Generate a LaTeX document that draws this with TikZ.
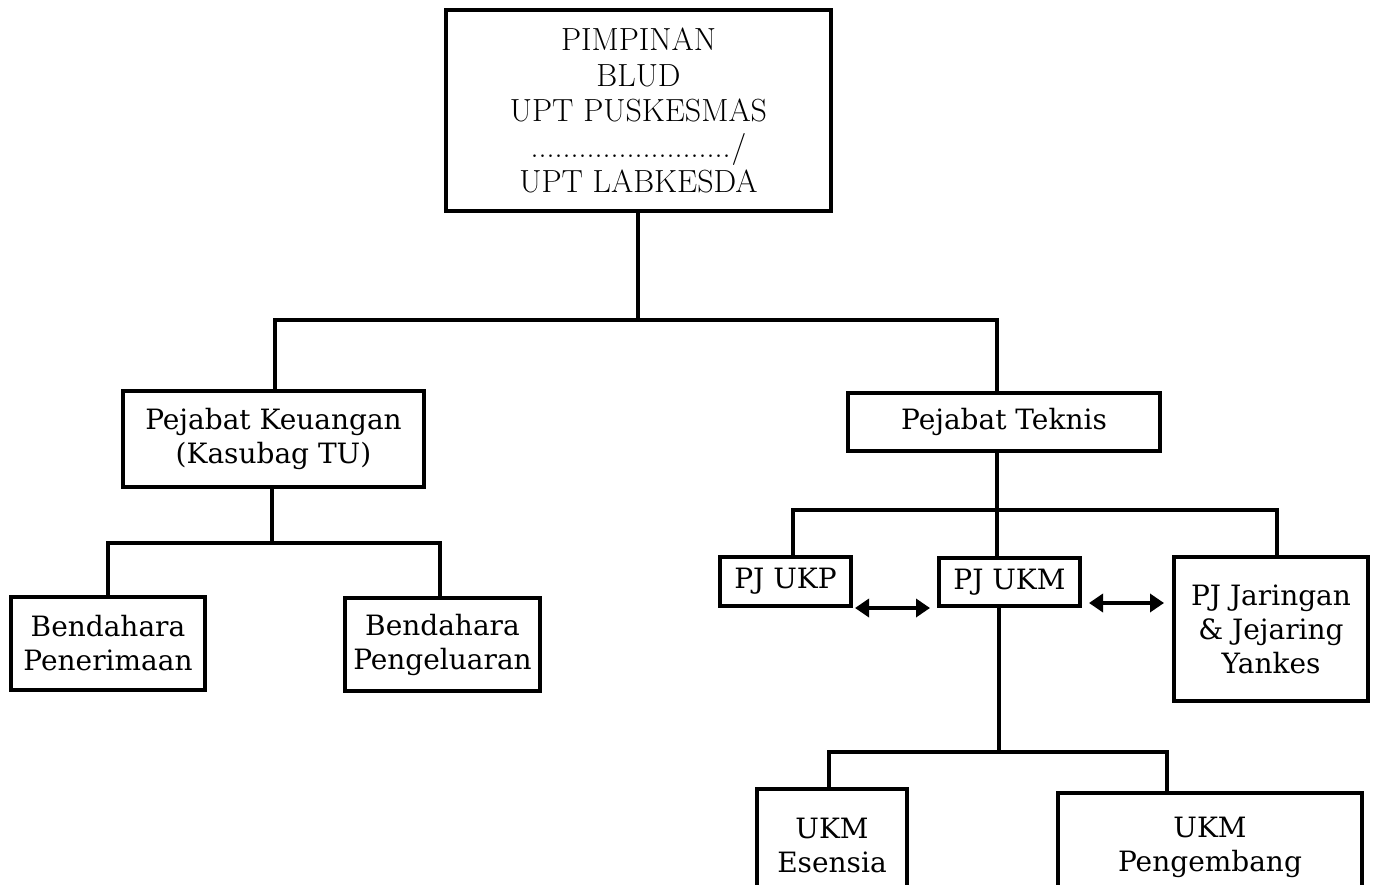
\documentclass[tikz,border=0pt]{standalone}
\usepackage{fontspec}
\setmainfont{DejaVu Serif}
\newfontfamily\lmfont{Latin Modern Roman}
\usetikzlibrary{arrows.meta}
\tikzset{
  x=1pt,y=-1pt,
  box/.style={draw,line width=4pt,align=center,inner sep=0pt,font=\fontsize{28}{34}\selectfont},
  conn/.style={line width=3.5pt},
  biarrow/.style={line width=4pt,{Triangle[length=14pt,width=18pt]}-{Triangle[length=14pt,width=18pt]}}
}
\begin{document}
\begin{tikzpicture}
\useasboundingbox (0,0) rectangle (1379,885);
\clip (0,0) rectangle (1379,885);
\node[box,minimum width=385pt,minimum height=201pt,font=\lmfont\fontsize{32}{35.5}\selectfont] (top) at (638.5,110.5)
  {PIMPINAN\\BLUD\\UPT PUSKESMAS\\.........................\kern1pt/\\UPT LABKESDA};
\node[box,minimum width=301pt,minimum height=96pt] (pk) at (273.5,439) {Pejabat Keuangan\\(Kasubag TU)};
\node[box,minimum width=194pt,minimum height=93pt] (bpen) at (108,643.5) {Bendahara\\Penerimaan};
\node[box,minimum width=195pt,minimum height=93pt] (bpg) at (442.5,644.5) {Bendahara\\Pengeluaran};
\node[box,minimum width=312pt,minimum height=58pt] (pt) at (1004,422) {Pejabat Teknis};
\node[box,minimum width=131pt,minimum height=49pt] (ukp) at (785.5,581.5) {PJ UKP};
\node[box,minimum width=141pt,minimum height=48pt] (ukm) at (1009.5,582) {PJ UKM};
\node[box,minimum width=194pt,minimum height=144pt] (jar) at (1271,629) {PJ Jaringan\\\&{} Jejaring\\Yankes};
\node[box,minimum width=150pt,minimum height=112pt] (es) at (832,845) {UKM\\Esensia};
\node[box,minimum width=304pt,minimum height=108pt] (pgb) at (1210,847) {UKM\\Pengembang};
% junctions
\coordinate (j1) at (638,320);
\coordinate (jl) at (275,320);
\coordinate (jr) at (997,320);
\coordinate (k1) at (272,543);
\coordinate (kl) at (108,543);
\coordinate (kr) at (440,543);
\coordinate (t1) at (997,510);
\coordinate (tl) at (793,510);
\coordinate (tr) at (1277,510);
\coordinate (u1) at (999,752);
\coordinate (ul) at (829,752);
\coordinate (ur) at (1167,752);
\draw[conn] (top.south -| j1) -- (j1);
\draw[conn] (jl |- pk.north) -- (jl) -- (jr) -- (jr |- pt.north);
\draw[conn] (pk.south -| k1) -- (k1);
\draw[conn] (kl |- bpen.north) -- (kl) -- (kr) -- (kr |- bpg.north);
\draw[conn] (pt.south -| t1) -- (t1);
\draw[conn] (tl |- ukp.north) -- (tl) -- (tr) -- (tr |- jar.north);
\draw[conn] (t1) -- (t1 |- ukm.north);
\draw[conn] (ukm.south -| u1) -- (u1);
\draw[conn] (ul |- es.north) -- (ul) -- (ur) -- (ur |- pgb.north);
\draw[biarrow] ([xshift=2pt]ukp.south east) -- ([xshift=-7pt]ukm.west |- ukp.south east);
\draw[biarrow] ([xshift=7pt,yshift=-21pt]ukm.east) -- ([xshift=-8pt,yshift=-21pt]jar.west |- ukm.east);
\end{tikzpicture}
\end{document}
